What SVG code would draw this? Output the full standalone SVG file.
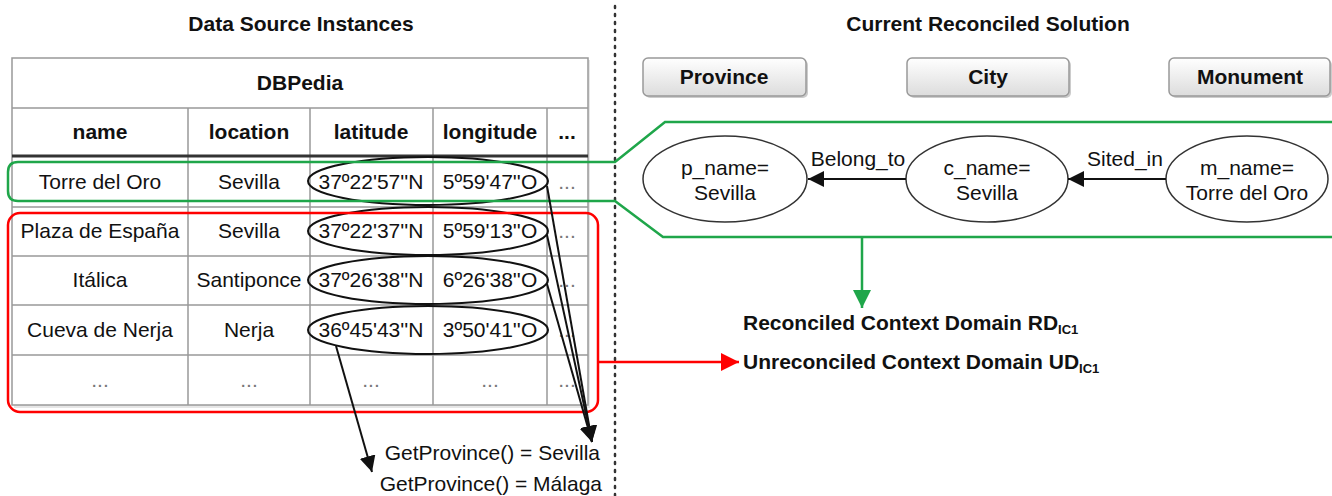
<svg xmlns="http://www.w3.org/2000/svg" width="1332" height="496" viewBox="0 0 1332 496">
<style>
text{font-family:"Liberation Sans",Arial,sans-serif;font-size:21px;fill:#111}
.b{font-weight:bold}
.c{text-anchor:middle}
.r{text-anchor:end}
.g{fill:#777}
.grid{stroke:#999;stroke-width:1.5;fill:none}
.ell{fill:none;stroke:#111;stroke-width:2}
.node{fill:#fff;stroke:#333;stroke-width:1.5}
.cls{fill:url(#grad);stroke:#999;stroke-width:1.5}
.blk{stroke:#111;stroke-width:2;fill:none}
</style>
<defs>
<linearGradient id="grad" x1="0" y1="0" x2="0" y2="1">
<stop offset="0" stop-color="#ffffff"/>
<stop offset="1" stop-color="#dcdcdc"/>
</linearGradient>
<marker id="ab" markerUnits="userSpaceOnUse" markerWidth="18" markerHeight="16" refX="16" refY="8" orient="auto">
<path d="M0,0 L16,8 L0,16 Z" fill="#111"/>
</marker>
<marker id="ag" markerUnits="userSpaceOnUse" markerWidth="20" markerHeight="18" refX="18" refY="9" orient="auto">
<path d="M0,0 L18,9 L0,18 Z" fill="#1fa64a"/>
</marker>
<marker id="ar" markerUnits="userSpaceOnUse" markerWidth="20" markerHeight="18" refX="18" refY="9" orient="auto">
<path d="M0,0 L18,9 L0,18 Z" fill="#f00"/>
</marker>
</defs>

<text class="b c" x="301" y="31">Data Source Instances</text>
<text class="b c" x="988" y="31">Current Reconciled Solution</text>

<line x1="615" y1="6" x2="615" y2="496" stroke="#333" stroke-width="2.5" stroke-dasharray="2 6" stroke-linecap="round"/>

<g id="table">
<rect x="14" y="60" width="576" height="348" fill="#e6e6e6"/>
<rect x="12" y="58" width="576" height="347" fill="#fff" stroke="#999" stroke-width="1.5"/>
<line class="grid" x1="12" y1="108" x2="588" y2="108"/>
<line class="grid" x1="188" y1="108" x2="188" y2="405"/>
<line class="grid" x1="310" y1="108" x2="310" y2="405"/>
<line class="grid" x1="433" y1="108" x2="433" y2="405"/>
<line class="grid" x1="547" y1="108" x2="547" y2="405"/>
<line class="grid" x1="12" y1="207" x2="588" y2="207"/>
<line class="grid" x1="12" y1="256" x2="588" y2="256"/>
<line class="grid" x1="12" y1="305" x2="588" y2="305"/>
<line class="grid" x1="12" y1="355" x2="588" y2="355"/>
<line x1="12" y1="156" x2="588" y2="156" stroke="#333" stroke-width="3"/>
<text class="b c" x="300" y="90">DBPedia</text>
<text class="b c" x="100" y="139">name</text>
<text class="b c" x="249" y="139">location</text>
<text class="b c" x="371" y="139">latitude</text>
<text class="b c" x="490" y="139">longitude</text>
<text class="b c" x="567" y="139">...</text>

<text class="c" x="100" y="189">Torre del Oro</text>
<text class="c" x="249" y="189">Sevilla</text>
<text class="c" x="371" y="189">37º22'57''N</text>
<text class="c" x="490" y="189">5º59'47''O</text>
<text class="c g" x="567" y="189">...</text>

<text class="c" x="100" y="238">Plaza de España</text>
<text class="c" x="249" y="238">Sevilla</text>
<text class="c" x="371" y="238">37º22'37''N</text>
<text class="c" x="490" y="238">5º59'13''O</text>
<text class="c g" x="567" y="238">...</text>

<text class="c" x="100" y="287">Itálica</text>
<text class="c" x="249" y="287">Santiponce</text>
<text class="c" x="371" y="287">37º26'38''N</text>
<text class="c" x="490" y="287">6º26'38''O</text>
<text class="c g" x="567" y="287">...</text>

<text class="c" x="100" y="337">Cueva de Nerja</text>
<text class="c" x="249" y="337">Nerja</text>
<text class="c" x="371" y="337">36º45'43''N</text>
<text class="c" x="490" y="337">3º50'41''O</text>
<text class="c g" x="567" y="337">...</text>

<text class="c g" x="100" y="387">...</text>
<text class="c g" x="249" y="387">...</text>
<text class="c g" x="371" y="387">...</text>
<text class="c g" x="490" y="387">...</text>
<text class="c g" x="567" y="387">...</text>
</g>

<g id="coord-ellipses">
<ellipse class="ell" cx="428" cy="181" rx="120" ry="24"/>
<ellipse class="ell" cx="428" cy="231" rx="120" ry="24"/>
<ellipse class="ell" cx="428" cy="280" rx="120" ry="24"/>
<ellipse class="ell" cx="428" cy="330" rx="120" ry="24"/>
</g>

<g id="reconciled-region">
<path d="M1340,122 L665,122 L615,162 L18,162 Q8,162 8,172 L8,191 Q8,201 18,201 L615,201 L663,237 L1340,237" fill="none" stroke="#1fa64a" stroke-width="2.5"/>
</g>

<g id="unreconciled-region">
<rect x="8" y="213" width="590" height="199" rx="12" fill="none" stroke="#f00" stroke-width="2.5"/>
</g>

<g id="class-province">
<rect x="645" y="60" width="163" height="38" rx="5" fill="#ccc"/>
<rect class="cls" x="643" y="58" width="163" height="38" rx="5"/>
<text class="b c" x="724" y="84">Province</text>
</g>
<g id="class-city">
<rect x="909" y="60" width="162" height="38" rx="5" fill="#ccc"/>
<rect class="cls" x="907" y="58" width="162" height="38" rx="5"/>
<text class="b c" x="988" y="84">City</text>
</g>
<g id="class-monument">
<rect x="1171" y="60" width="161" height="38" rx="5" fill="#ccc"/>
<rect class="cls" x="1169" y="58" width="161" height="38" rx="5"/>
<text class="b c" x="1250" y="84">Monument</text>
</g>

<g id="node-province">
<ellipse class="node" cx="725" cy="179" rx="82" ry="43"/>
<text class="c" x="725" y="175">p_name=</text>
<text class="c" x="725" y="200">Sevilla</text>
</g>
<g id="node-city">
<ellipse class="node" cx="987" cy="179" rx="81" ry="43"/>
<text class="c" x="987" y="175">c_name=</text>
<text class="c" x="987" y="200">Sevilla</text>
</g>
<g id="node-monument">
<ellipse class="node" cx="1247" cy="179" rx="81" ry="43"/>
<text class="c" x="1247" y="175">m_name=</text>
<text class="c" x="1247" y="200">Torre del Oro</text>
</g>

<g id="connectors">
<line class="blk" x1="906" y1="179" x2="808" y2="179" marker-end="url(#ab)"/>
<text class="c" x="858" y="166">Belong_to</text>
<line class="blk" x1="1166" y1="179" x2="1068" y2="179" marker-end="url(#ab)"/>
<text class="c" x="1125" y="166">Sited_in</text>

<line class="blk" x1="547" y1="186" x2="592" y2="442" marker-end="url(#ab)"/>
<line class="blk" x1="547" y1="235" x2="592" y2="442" marker-end="url(#ab)"/>
<line class="blk" x1="547" y1="284" x2="592" y2="442" marker-end="url(#ab)"/>
<line class="blk" x1="336" y1="346" x2="372" y2="472" marker-end="url(#ab)"/>

<line x1="862" y1="237" x2="862" y2="308" stroke="#1fa64a" stroke-width="2.5" marker-end="url(#ag)"/>
<line x1="598" y1="362" x2="739" y2="362" stroke="#f00" stroke-width="2.5" marker-end="url(#ar)"/>
</g>

<text class="r" x="600" y="460">GetProvince() = Sevilla</text>
<text class="r" x="602" y="491">GetProvince() = Málaga</text>

<text class="b" x="743" y="330">Reconciled Context Domain RD<tspan font-size="13" dy="4">IC1</tspan></text>
<text class="b" x="743" y="369">Unreconciled Context Domain UD<tspan font-size="13" dy="4">IC1</tspan></text>
</svg>
